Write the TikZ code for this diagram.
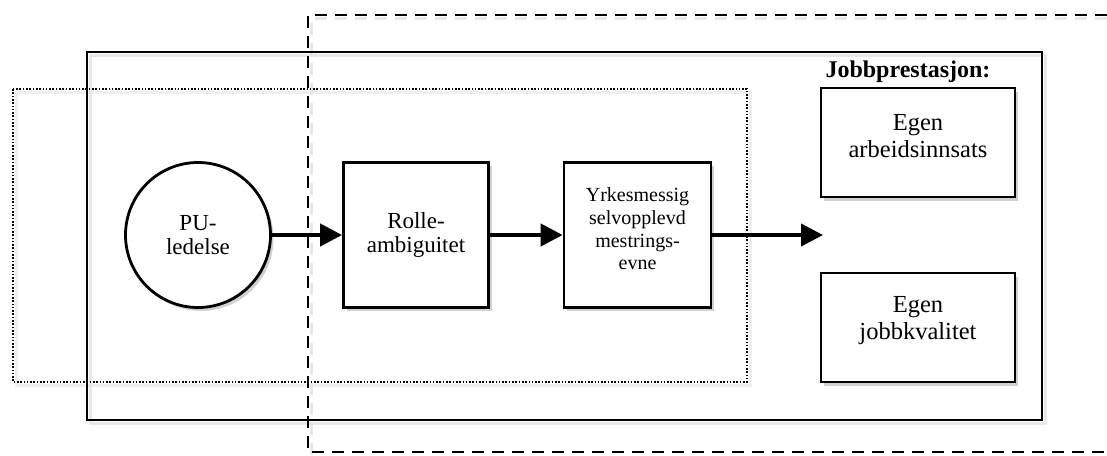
\documentclass[tikz,border=0pt]{standalone}
\usepackage{fontspec}
\setmainfont{Liberation Serif}
\usetikzlibrary{arrows.meta,shadows}
\begin{document}
\begin{tikzpicture}[x=1pt,y=-1pt,
  shad/.style={drop shadow={shadow xshift=3pt,shadow yshift=-3.5pt,fill=black!45,opacity=0.4}},
  frameshadow/.style={black!15,line width=3pt,opacity=0.6},
  boxnode/.style={draw,line width=2.8pt,fill=white,shad,rectangle,inner sep=0pt},
  txtA/.style={align=center,font=\fontsize{23}{24.5}\selectfont},
  txtB/.style={align=center,font=\fontsize{24.5}{27}\selectfont},
  txtC/.style={align=center,font=\fontsize{20}{22.7}\selectfont},
  flow/.style={line width=4.2pt,-{Triangle[length=22pt,width=22pt]}},
  dashedframe/.style={line width=2.8pt,dash pattern=on 12pt off 8pt},
  dottedframe/.style={line width=2.2pt,dash pattern=on 1.6pt off 1.7pt},
  solidframe/.style={line width=2.8pt}
]
\useasboundingbox (0,0) rectangle (1107,455);
% frame shadows
\draw[frameshadow,dash pattern=on 12pt off 8pt] (1107,18.5) -- (311.5,18.5) -- (311.5,455);
\draw[frameshadow] (90.5,55.5) rectangle (1045.5,423.5);
\draw[frameshadow,black!10] (16.5,92.5) rectangle (750.5,385.5);
% frames
\draw[solidframe] (87,52) rectangle (1042,420);
\draw[dottedframe] (13,89) rectangle (747,382);
\draw[dashedframe] (1107,15) -- (308,15) -- (308,452) -- (1107,452);
% nodes
\node[draw,circle,line width=2.8pt,fill=white,shad,minimum size=145pt,inner sep=0pt,txtA] (pu) at (198,235) {PU-\\ledelse};
\node[boxnode,minimum width=145pt,minimum height=145pt,txtA] (rolle) at (416,235) {Rolle-\\ambiguitet};
\node[boxnode,minimum width=147pt,minimum height=145pt] (yrk) at (637.5,235) {};
\node[txtC] at (637.5,229) {Yrkesmessig\\selvopplevd\\mestrings-\\evne};
\node[font=\fontsize{24}{28}\selectfont\bfseries] (jp) at (908,72) {Jobbprestasjon:};
\node[boxnode,minimum width=194pt,minimum height=109pt] (arb) at (918,142.5) {};
\node[txtB] at (918,136) {Egen\\arbeidsinnsats};
\node[boxnode,minimum width=194pt,minimum height=109pt] (jk) at (918,327.5) {};
\node[txtB] at (918,321) {Egen\\jobbkvalitet};
\coordinate (out) at (823,235);
% connectors
\draw[flow] (pu.east) -- (rolle.west);
\draw[flow] (rolle.east) -- (yrk.west);
\draw[flow] (yrk.east) -- (out);
\end{tikzpicture}
\end{document}
